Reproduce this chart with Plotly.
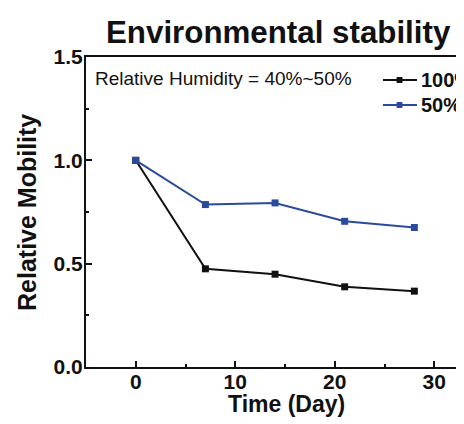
import plotly.graph_objects as go

days = [0, 7, 14, 21, 28]
series_100 = [1.0, 0.475, 0.449, 0.388, 0.367]
series_50 = [1.0, 0.786, 0.794, 0.705, 0.675]
names = ["100%", "50%"]
colors = ["#111111", "#2a4b9b"]
y_ticks = [0.0, 0.5, 1.0, 1.5]
y_tick_text = ["0.0", "0.5", "1.0", "1.5"]
x_ticks = [0, 10, 20, 30]

FONT = "Liberation Sans, Arial, sans-serif"

fig = go.Figure()
for vals, name, col in zip([series_100, series_50], names, colors):
    fig.add_trace(go.Scatter(
        x=days, y=vals, mode="lines+markers", name=name,
        line=dict(color=col, width=2),
        marker=dict(symbol="square", size=7, color=col),
        showlegend=False, cliponaxis=False,
    ))

# page body has an 8px margin; figure sized to fit the window exactly
OFF = 8
W, H = 464 - OFF, 424 - OFF
L, R, T, B = 86 - OFF, 0, 57 - OFF, 424 - 367
pw = W - L - R
ph = H - T - B

def px(x):
    return (x - OFF - L) / pw

def py(y):
    return (H - B - (y - OFF)) / ph

annotations = [
    dict(text="Environmental stability", x=px(104), y=py(32), xanchor="left", yanchor="middle",
         font=dict(size=31.3, family=FONT, color="#111", weight="bold")),
    dict(text="Relative Humidity = 40%~50%", x=px(93), y=py(79), xanchor="left", yanchor="middle",
         font=dict(size=19, family=FONT, color="#111")),
    dict(text="Relative Mobility", x=px(27), y=py(213), xanchor="center", yanchor="middle", textangle=-90,
         font=dict(size=25, family=FONT, color="#111", weight="bold")),
    dict(text="Time (Day)", x=px(286), y=py(404), xanchor="center", yanchor="middle",
         font=dict(size=23, family=FONT, color="#111", weight="bold")),
]
shapes = []
for i, (name, col) in enumerate(zip(names, colors)):
    yy = [80, 105][i]
    annotations.append(dict(text=name, x=px(419), y=py(yy), xanchor="left", yanchor="middle",
                            font=dict(size=20, family=FONT, color="#111", weight="bold")))
    shapes.append(dict(type="line", xref="paper", yref="paper", x0=px(383), x1=px(417),
                       y0=py(yy), y1=py(yy), line=dict(color=col, width=2)))
    shapes.append(dict(type="rect", xref="paper", yref="paper", x0=px(397), x1=px(402),
                       y0=py(yy + 2.5), y1=py(yy - 2.5), line=dict(color=col, width=1), fillcolor=col))
for a in annotations:
    a.update(xref="paper", yref="paper", showarrow=False)

fig.update_layout(
    template="none",
    width=W, height=H,
    margin=dict(l=L, r=R, t=T, b=B, pad=0, autoexpand=False),
    paper_bgcolor="white", plot_bgcolor="white",
    annotations=annotations, shapes=shapes,
    xaxis=dict(range=[-5, -5 + pw / 9.95], tickvals=x_ticks, ticks="inside", ticklen=6, tickwidth=2,
               automargin=False, ticklabelstandoff=-5,
               showline=True, linecolor="#111", linewidth=2, mirror=True, showgrid=False, zeroline=False,
               minor=dict(ticks="inside", ticklen=3, tickwidth=1.5, dtick=5, tick0=0, tickcolor="#111"),
               tickcolor="#111",
               tickfont=dict(size=21, family=FONT, color="#111", weight="bold")),
    yaxis=dict(range=[0, 1.5], tickvals=y_ticks, ticktext=y_tick_text, ticks="inside", ticklen=6, tickwidth=2,
               automargin=False, ticklabelstandoff=-3,
               showline=True, linecolor="#111", linewidth=2, mirror=True, showgrid=False, zeroline=False,
               minor=dict(ticks="inside", ticklen=3, tickwidth=1.5, dtick=0.25, tick0=0, tickcolor="#111"),
               tickcolor="#111",
               tickfont=dict(size=21, family=FONT, color="#111", weight="bold")),
)

fig.write_html("out.html")
